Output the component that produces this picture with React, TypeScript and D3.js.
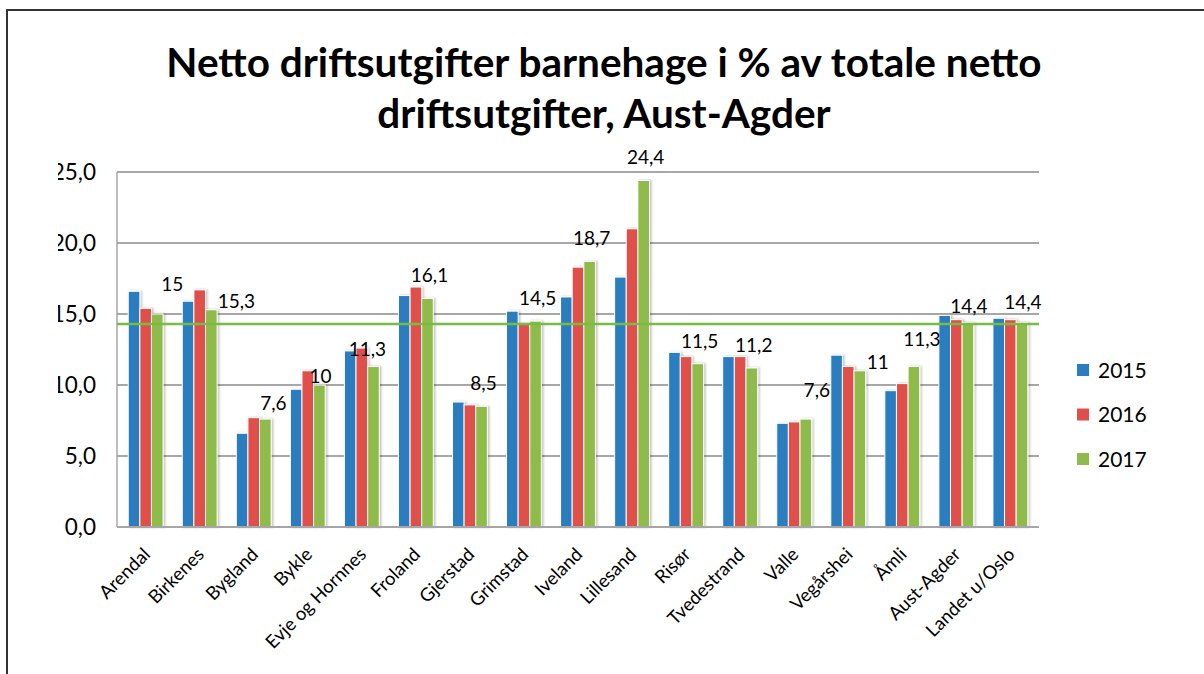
import React, { useEffect, useRef } from 'react'
import * as d3 from 'd3'

// kommuner + sammenligning
const categories = [
  'Arendal', 'Birkenes', 'Bygland', 'Bykle', 'Evje og Hornnes', 'Froland', 'Gjerstad',
  'Grimstad', 'Iveland', 'Lillesand', 'Risør', 'Tvedestrand', 'Valle', 'Vegårshei',
  'Åmli', 'Aust-Agder', 'Landet u/Oslo',
]
const years = ['2015', '2016', '2017']
const values2015 = [16.6, 15.9, 6.6, 9.7, 12.4, 16.3, 8.8, 15.2, 16.2, 17.6, 12.3, 12.0, 7.3, 12.1, 9.6, 14.9, 14.7]
const values2016 = [15.4, 16.7, 7.7, 11.0, 12.6, 16.9, 8.6, 14.3, 18.3, 21.0, 12.0, 12.0, 7.4, 11.3, 10.1, 14.6, 14.6]
const values2017 = [15.0, 15.3, 7.6, 10.0, 11.3, 16.1, 8.5, 14.5, 18.7, 24.4, 11.5, 11.2, 7.6, 11.0, 11.3, 14.4, 14.4]
const referenceValue = 14.3
const yTicks = [0, 5, 10, 15, 20, 25]
const titleLines = ['Netto driftsutgifter barnehage i % av totale netto', 'driftsutgifter, Aust-Agder']

const colors = ['#2a7ec0', '#e0504a', '#8fbb4c']

// the labels in the original were dragged around by hand
const labelNudge = [
  [13, -7], [23, 14], [6, 7], [-1, 14], [-8, 6], [0, 0], [0, 0], [0, 0], [0, 0],
  [0, 0], [0, 0], [0, 0], [9, -6], [16, 14], [6, -4], [-1, 7], [-1, 3],
]

const fmtTick = (v: number) => v.toFixed(1).replace('.', ',')
const fmtLabel = (v: number) => String(v).replace('.', ',')

const App = () => {
  const svgRef = useRef<SVGSVGElement>(null)

  useEffect(() => {
    const width = 1204
    const height = 674
    const left = 117
    const right = 1039
    const font = 'Lato, "Open Sans", sans-serif'

    const svg = d3.select(svgRef.current)
    svg.selectAll('*').remove()
    svg.attr('width', width).attr('height', height).style('background', '#fff')

    const defs = svg.append('defs')
    const shadow = defs.append('filter').attr('id', 'barShadow').attr('x', '-30%').attr('width', '160%')
    shadow
      .append('feDropShadow')
      .attr('dx', 1.5)
      .attr('dy', 0)
      .attr('stdDeviation', 0.8)
      .attr('flood-color', '#000')
      .attr('flood-opacity', 0.25)
    defs
      .append('clipPath')
      .attr('id', 'tickClip')
      .append('rect')
      .attr('x', 58)
      .attr('y', 0)
      .attr('width', 200)
      .attr('height', height)

    // frame
    svg
      .append('path')
      .attr('d', `M7,${height} V10 H${width}`)
      .attr('fill', 'none')
      .attr('stroke', '#333')
      .attr('stroke-width', 2)

    // title
    svg
      .append('g')
      .selectAll('text')
      .data(titleLines)
      .enter()
      .append('text')
      .attr('x', 604)
      .attr('y', (d, i) => 77 + i * 51)
      .attr('text-anchor', 'middle')
      .attr('font-family', font)
      .attr('font-weight', 'bold')
      .attr('font-size', 40.5)
      .attr('fill', '#000')
      .text((d) => d)

    const y = d3.scaleLinear().domain([0, 25]).range([527, 172])
    const x = d3.scaleBand().domain(categories).range([118.5, 1037.5]).paddingInner(0.355).paddingOuter(0.18)
    const xs = d3.scaleBand().domain(years).range([0, x.bandwidth()])

    // grid
    svg
      .append('g')
      .selectAll('line')
      .data(yTicks.filter((t) => t > 0))
      .enter()
      .append('line')
      .attr('x1', left)
      .attr('x2', right)
      .attr('y1', (d) => y(d))
      .attr('y2', (d) => y(d))
      .attr('stroke', '#8a8a8a')
      .attr('stroke-width', 1.3)

    svg
      .append('line')
      .attr('x1', left)
      .attr('x2', left)
      .attr('y1', y(25))
      .attr('y2', y(0))
      .attr('stroke', '#9a9a9a')
      .attr('stroke-width', 1.3)

    // y tick labels
    svg
      .append('g')
      .attr('clip-path', 'url(#tickClip)')
      .selectAll('text')
      .data(yTicks)
      .enter()
      .append('text')
      .attr('x', 96)
      .attr('y', (d) => y(d))
      .attr('dy', '0.36em')
      .attr('text-anchor', 'end')
      .attr('font-family', font)
      .attr('font-size', 22.5)
      .attr('fill', '#000')
      .text((d) => fmtTick(d))

    // bars
    const series = [values2015, values2016, values2017]
    series.forEach((vals, si) => {
      svg
        .append('g')
        .attr('filter', 'url(#barShadow)')
        .selectAll('rect')
        .data(vals)
        .enter()
        .append('rect')
        .attr('x', (d, i) => (x(categories[i]) as number) + (xs(years[si]) as number))
        .attr('y', (d) => y(d))
        .attr('width', xs.bandwidth())
        .attr('height', (d) => y(0) - y(d))
        .attr('fill', colors[si])
        .attr('stroke', '#fff')
        .attr('stroke-width', 1)
    })

    // x axis line
    svg
      .append('line')
      .attr('x1', left)
      .attr('x2', right)
      .attr('y1', y(0))
      .attr('y2', y(0))
      .attr('stroke', '#a6a6a6')
      .attr('stroke-width', 2)

    // reference line
    svg
      .append('line')
      .attr('x1', left)
      .attr('x2', right)
      .attr('y1', y(referenceValue))
      .attr('y2', y(referenceValue))
      .attr('stroke', '#77bd45')
      .attr('stroke-width', 2.5)

    // data labels (2017 only)
    svg
      .append('g')
      .selectAll('text')
      .data(values2017)
      .enter()
      .append('text')
      .attr('x', (d, i) => (x(categories[i]) as number) + (xs('2017') as number) + xs.bandwidth() / 2 + 2 + labelNudge[i][0])
      .attr('y', (d, i) => y(d) - 23 + labelNudge[i][1])
      .attr('dy', '0.36em')
      .attr('text-anchor', 'middle')
      .attr('font-family', font)
      .attr('font-size', 19)
      .attr('fill', '#000')
      .text((d) => fmtLabel(d))

    // x labels
    svg
      .append('g')
      .selectAll('text')
      .data(categories)
      .enter()
      .append('text')
      .attr('transform', (d) => `translate(${(x(d) as number) + x.bandwidth() / 2 + 1},${y(0) + 24}) rotate(-45)`)
      .attr('dy', '0.35em')
      .attr('text-anchor', 'end')
      .attr('font-family', font)
      .attr('font-size', 18.5)
      .attr('fill', '#000')
      .text((d) => d)

    // legend
    const legend = svg
      .append('g')
      .selectAll('g')
      .data(years)
      .enter()
      .append('g')
      .attr('transform', (d, i) => `translate(1077,${370 + i * 44.5})`)
    legend
      .append('rect')
      .attr('x', 0)
      .attr('y', -6)
      .attr('width', 12)
      .attr('height', 12)
      .attr('fill', (d, i) => colors[i])
    legend
      .append('text')
      .attr('x', 21)
      .attr('y', 0)
      .attr('dy', '0.36em')
      .attr('font-family', font)
      .attr('font-size', 21)
      .attr('fill', '#000')
      .text((d) => d)
  }, [])

  return <svg ref={svgRef} style={{ position: 'absolute', left: 0, top: 0 }}></svg>
}

export default App
